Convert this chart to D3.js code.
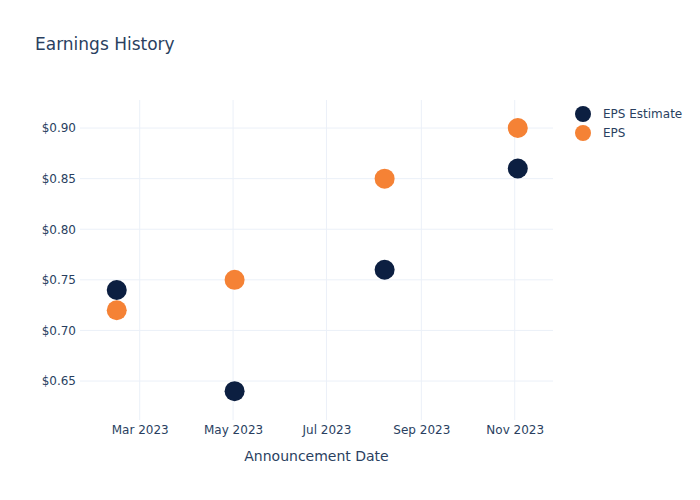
<!DOCTYPE html>
<html>
<head>
<meta charset="utf-8">
<script src="https://cdn.jsdelivr.net/npm/d3@7"></script>
<style>
  html, body { margin: 0; padding: 0; background: #fff; }
  svg { display: block; font-family: "DejaVu Sans", Verdana, sans-serif; }
</style>
</head>
<body>
<svg id="chart" width="700" height="500"></svg>
<script>
const dates = ["2023-02-14", "2023-05-02", "2023-08-08", "2023-11-03"];
const epsEstimate = [0.74, 0.64, 0.76, 0.86];
const eps = [0.72, 0.75, 0.85, 0.90];
const xTickDates = ["2023-03-01", "2023-05-01", "2023-07-01", "2023-09-01", "2023-11-01"];
const yTicks = [0.65, 0.70, 0.75, 0.80, 0.85, 0.90];
const seriesNames = ["EPS Estimate", "EPS"];
const seriesColors = ["#0c1f41", "#f58235"];

const FONT = '"DejaVu Sans", Verdana, sans-serif';
const svg = d3.select("#chart");
const W = 700, H = 500;
const m = { l: 80, r: 147, t: 100, b: 80 };
const pw = W - m.l - m.r, ph = H - m.t - m.b;
const textColor = "#2a3f5f";
const gridColor = "#ebf0f8";

const parse = d3.utcParse("%Y-%m-%d");
const x = d3.scaleUtc()
  .domain([parse("2023-01-21"), parse("2023-11-26")])
  .range([m.l, m.l + pw]);
const y = d3.scaleLinear()
  .domain([0.6115, 0.9277])
  .range([m.t + ph, m.t]);

svg.append("text")
  .attr("x", 35).attr("y", 50)
  .attr("fill", textColor)
  .attr("font-size", 17)
  .text("Earnings History");

// Grid
const grid = svg.append("g");
grid.selectAll(".vg").data(xTickDates).enter().append("line")
  .attr("x1", d => x(parse(d))).attr("x2", d => x(parse(d)))
  .attr("y1", m.t).attr("y2", m.t + ph)
  .attr("stroke", gridColor).attr("stroke-width", 1);
grid.selectAll(".hg").data(yTicks).enter().append("line")
  .attr("x1", m.l).attr("x2", m.l + pw)
  .attr("y1", d => y(d)).attr("y2", d => y(d))
  .attr("stroke", gridColor).attr("stroke-width", 1);

// Axes
const xAxis = d3.axisBottom(x)
  .tickValues(xTickDates.map(parse))
  .tickFormat(d3.utcFormat("%b %Y"))
  .tickSize(0).tickPadding(5);
const gx = svg.append("g").attr("transform", `translate(0,${m.t + ph})`).call(xAxis);
gx.select(".domain").remove();
gx.selectAll("text").attr("fill", textColor).attr("font-size", 12)
  .style("font-family", FONT);

const yAxis = d3.axisLeft(y)
  .tickValues(yTicks)
  .tickFormat(d => "$" + d3.format(".2f")(d))
  .tickSize(0).tickPadding(4);
const gy = svg.append("g").attr("transform", `translate(${m.l},0)`).call(yAxis);
gy.select(".domain").remove();
gy.selectAll("text").attr("fill", textColor).attr("font-size", 12)
  .style("font-family", FONT);

svg.append("text")
  .attr("x", m.l + pw / 2).attr("y", 461)
  .attr("text-anchor", "middle")
  .attr("fill", textColor).attr("font-size", 14)
  .text("Announcement Date");

// Points
const seriesData = [epsEstimate, eps];
seriesData.forEach((vals, i) => {
  svg.append("g").selectAll("circle")
    .data(vals.map((v, j) => ({ d: parse(dates[j]), v })))
    .enter().append("circle")
    .attr("cx", d => x(d.d))
    .attr("cy", d => y(d.v))
    .attr("r", 10)
    .attr("fill", seriesColors[i]);
});

// Legend
const lg = svg.append("g");
seriesNames.forEach((name, i) => {
  const ly = 114 + i * 19;
  lg.append("circle").attr("cx", 583).attr("cy", ly).attr("r", 8).attr("fill", seriesColors[i]);
  lg.append("text").attr("x", 603).attr("y", ly + 4)
    .attr("fill", textColor).attr("font-size", 12).text(name);
});
</script>
</body>
</html>
